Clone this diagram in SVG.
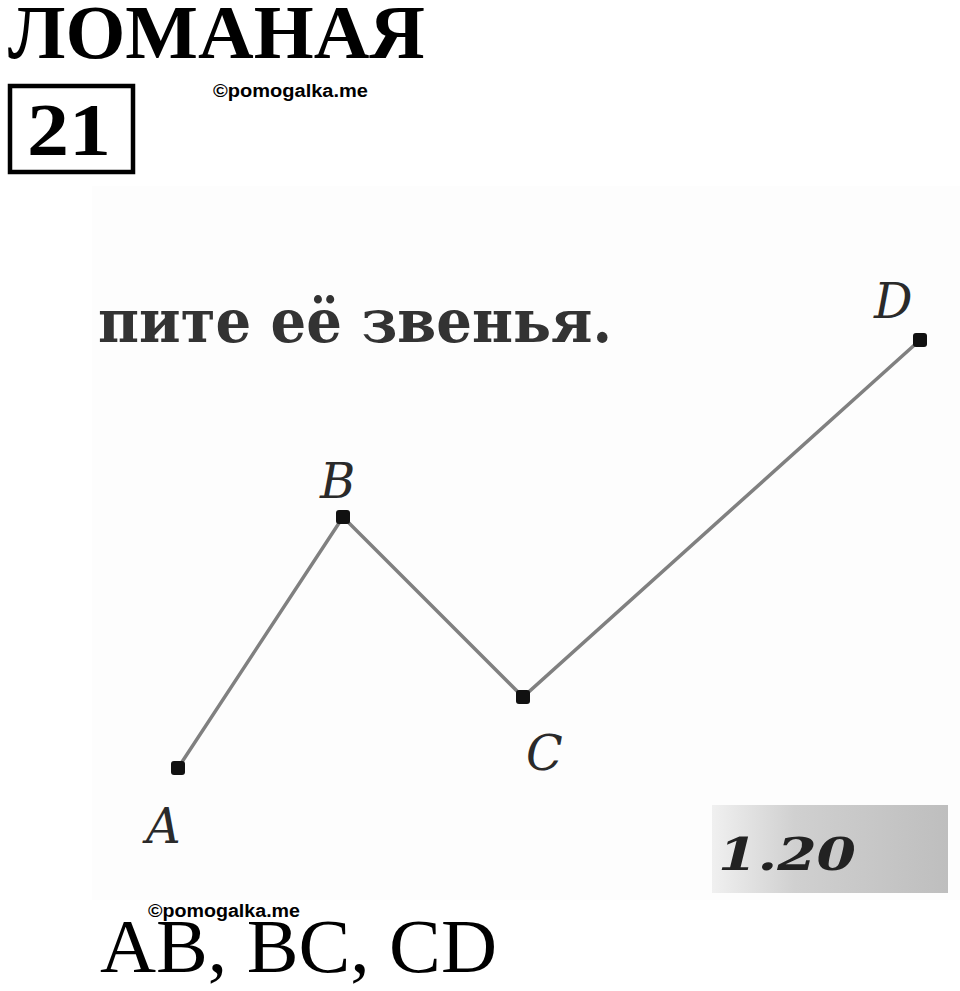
<svg xmlns="http://www.w3.org/2000/svg" width="960" height="991" viewBox="0 0 960 991">
<defs>
<style>
.title{font-family:"Liberation Serif","Times New Roman",serif;font-weight:bold;fill:#000}
.wm{font-family:"Liberation Sans",Arial,sans-serif;font-weight:bold;font-size:18px;fill:#000}
.lbl{font-family:"DejaVu Serif","Liberation Serif",serif;font-style:italic;font-size:48px;fill:#2a2a2a}
.seg{stroke:#808080;stroke-width:3.5;fill:none;stroke-linecap:round}
.pt{fill:#111}
</style>
<linearGradient id="g120" x1="0" y1="0" x2="1" y2="0">
<stop offset="0" stop-color="#f0f0f0"/>
<stop offset="0.35" stop-color="#d0d0d0"/>
<stop offset="1" stop-color="#bebebe"/>
</linearGradient>
</defs>
<rect x="0" y="0" width="960" height="991" fill="#fff"/>
<rect x="92" y="186" width="868" height="714" fill="#fdfdfd"/>
<g id="header">
<text class="title" x="8" y="58" font-size="76" textLength="417" lengthAdjust="spacingAndGlyphs">ЛОМАНАЯ</text>
<rect x="10" y="86" width="123" height="86" fill="#fff" stroke="#000" stroke-width="4.5"/>
<text class="title" x="27" y="155" font-size="74" textLength="84" lengthAdjust="spacingAndGlyphs">21</text>
<text class="wm" x="213" y="97" textLength="155" lengthAdjust="spacingAndGlyphs">©pomogalka.me</text>
</g>
<g id="task-text">
<text x="98" y="342" font-family="'DejaVu Serif','Liberation Serif',serif" font-weight="bold" font-size="60" fill="#333" textLength="514" lengthAdjust="spacingAndGlyphs">пите её звенья.</text>
</g>
<g id="connectors">
<polyline class="seg" points="178,768 343,517 523,697 920,340"/>
</g>
<g id="node-A"><rect class="pt" x="171" y="761" width="14" height="14" rx="3"/><text class="lbl" x="146" y="843">A</text></g>
<g id="node-B"><rect class="pt" x="336" y="510" width="14" height="14" rx="3"/><text class="lbl" x="320" y="498">B</text></g>
<g id="node-C"><rect class="pt" x="516" y="690" width="14" height="14" rx="3"/><text class="lbl" x="526" y="770">C</text></g>
<g id="node-D"><rect class="pt" x="913" y="333" width="14" height="14" rx="3"/><text class="lbl" x="874" y="318">D</text></g>
<g id="fig-label">
<rect x="712" y="805" width="236" height="88" fill="url(#g120)"/>
<text x="718" y="870" font-family="'DejaVu Serif','Liberation Serif',serif" font-weight="bold" font-style="italic" font-size="44" fill="#222" textLength="138" lengthAdjust="spacingAndGlyphs">1.20</text>
</g>
<g id="answer">
<text x="100" y="972" font-family="'Liberation Serif','Times New Roman',serif" font-size="76" fill="#000" textLength="397" lengthAdjust="spacingAndGlyphs">AB, BC, CD</text>
<text class="wm" x="148" y="917" textLength="152" lengthAdjust="spacingAndGlyphs">©pomogalka.me</text>
</g>
</svg>
